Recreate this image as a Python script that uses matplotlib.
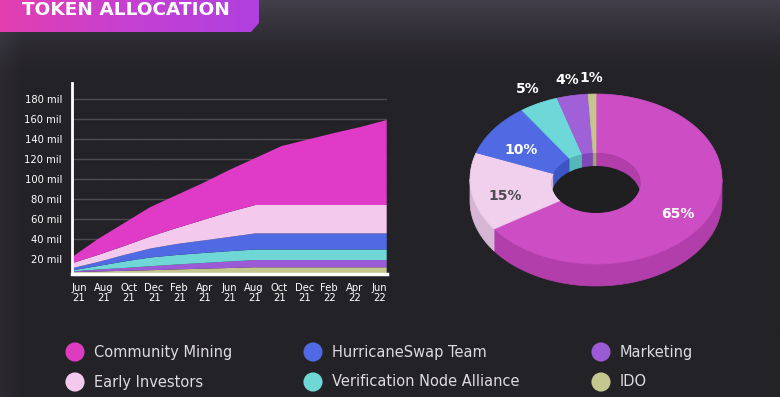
import numpy as np
import matplotlib.pyplot as plt
from matplotlib.patches import Polygon, Ellipse
from matplotlib.colors import LinearSegmentedColormap

plt.rcParams['font.family'] = ['DejaVu Sans']

# ---------------- data ----------------
months = ["Jun\n21", "Aug\n21", "Oct\n21", "Dec\n21", "Feb\n21", "Apr\n21", "Jun\n21",
          "Aug\n21", "Oct\n21", "Dec\n21", "Feb\n22", "Apr\n22", "Jun\n22"]

# unlocked tokens per group, millions (stack order bottom -> top)
ido = [6.8, 7.5, 8.2, 8.8, 9.6, 10.3, 11.0, 11.7, 11.7, 11.7, 11.7, 11.7, 11.7]
marketing = [0.7, 2.0, 2.8, 4.0, 4.9, 5.7, 6.5, 7.3, 7.3, 7.3, 7.3, 7.3, 7.3]
verification = [1.0, 3.5, 6.5, 8.7, 9.5, 10.0, 10.3, 10.5, 10.5, 10.5, 10.5, 10.5, 10.5]
hurricane = [2.2, 4.0, 6.5, 9.0, 11.0, 12.5, 14.2, 16.1, 16.1, 16.1, 16.1, 16.1, 16.1]
early = [5.0, 7.0, 9.0, 12.0, 16.0, 20.5, 25.0, 28.4, 28.4, 28.4, 28.4, 28.4, 28.4]
community = [6.0, 16.0, 23.0, 29.5, 33.0, 37.0, 42.0, 47.0, 59.0, 65.5, 72.0, 78.0, 85.0]

yticks = [20, 40, 60, 80, 100, 120, 140, 160, 180]

# donut shares, clockwise from 12 o'clock
pie_names = ["Community Mining", "Early Investors", "HurricaneSwap Team",
             "Verification Node Alliance", "Marketing", "IDO"]
pie_pct = [65, 15, 10, 5, 4, 1]

# legend order (column-major, 3 columns)
legend_names = ["Community Mining", "Early Investors", "HurricaneSwap Team",
                "Verification Node Alliance", "Marketing", "IDO"]

# ---------------- colours ----------------
area_col = {"Community Mining": "#e03bc7", "Early Investors": "#f4c9ee",
            "HurricaneSwap Team": "#4f6ae3", "Verification Node Alliance": "#6fd7d6",
            "Marketing": "#9b5bd7", "IDO": "#c4c78e"}
pie_col = {"Community Mining": "#cd4ec4", "Early Investors": "#f1d0ee",
           "HurricaneSwap Team": "#4f6ae3", "Verification Node Alliance": "#6ed8d8",
           "Marketing": "#9f60d8", "IDO": "#c3c58b"}
wall_col = {"Community Mining": "#b23eab", "Early Investors": "#d6b6d3",
            "HurricaneSwap Team": "#3d55c4", "Verification Node Alliance": "#55b8b8",
            "Marketing": "#8047b8", "IDO": "#a4a670"}
bg = "#232226"

W, H = 780, 397
fig = plt.figure(figsize=(W / 100, H / 100), dpi=100)
fig.patch.set_facecolor(bg)

# background gradient
bgax = fig.add_axes([0, 0, 1, 1], zorder=-10)
yy = np.linspace(0, 1, 200)[:, None]
xx = np.linspace(0, 1, 400)[None, :]
shade = np.clip(1 - yy / 0.2, 0, 1) ** 1.5 * 0.9 + np.clip(1 - xx / 0.03, 0, 1) * 0.25
cmap_bg = LinearSegmentedColormap.from_list("bg", [bg, "#46424f"])
bgax.imshow(shade, cmap=cmap_bg, vmin=0, vmax=1, aspect="auto", extent=[0, W, H, 0])
bgax.set_xlim(0, W)
bgax.set_ylim(H, 0)
bgax.axis("off")

# ---------------- stacked area ----------------
ax = fig.add_axes([71.7 / W, 1 - 273.5 / H, 315 / W, 190.2 / H], zorder=1)
ax.set_facecolor("none")
x = np.arange(len(months))
series = [ido, marketing, verification, hurricane, early, community]
names = ["IDO", "Marketing", "Verification Node Alliance", "HurricaneSwap Team",
         "Early Investors", "Community Mining"]
ax.stackplot(x, *series, colors=[area_col[n] for n in names], linewidth=0)
ax.set_xlim(0, 12)
ax.set_ylim(5.5, 195.7)
ax.set_yticks(yticks)
ax.set_yticklabels([f"{v} mil" for v in yticks])
ax.set_xticks(np.linspace(0.28, 11.72, len(months)))
ax.set_xticklabels(months, linespacing=0.95)
ax.tick_params(length=0, colors="white", labelsize=7.2)
ax.tick_params(axis="y", pad=7)
ax.tick_params(axis="x", pad=7)
ax.grid(axis="y", color="#4d4d4f", linewidth=1)
ax.set_axisbelow(True)
for s in ["top", "right"]:
    ax.spines[s].set_visible(False)
ax.spines["left"].set_color("white")
ax.spines["left"].set_linewidth(2)
ax.spines["bottom"].set_color("white")
ax.spines["bottom"].set_linewidth(2.5)

# ---------------- overlay (pixel coords) ----------------
ov = fig.add_axes([0, 0, 1, 1], zorder=2)
ov.set_xlim(0, W)
ov.set_ylim(H, 0)
ov.axis("off")
ov.patch.set_visible(False)

# title banner
banner = Polygon([(0, -2), (259, -2), (259, 23), (251, 32), (0, 32)], closed=True,
                 facecolor="none", edgecolor="none")
ov.add_patch(banner)
grad = np.linspace(0, 1, 256)[None, :]
cmap_b = LinearSegmentedColormap.from_list("ban", ["#e33fb0", "#c540d2", "#b040e0"])
im = ov.imshow(grad, cmap=cmap_b, aspect="auto", extent=[0, 260, 32, -2], zorder=3)
im.set_clip_path(banner)
ov.text(22, 10, "TOKEN ALLOCATION", color="white", fontsize=13.3, fontweight="bold",
        ha="left", va="center", zorder=4)

# 3D donut
cx, cy = 596, 179
rx, ry = 126, 85
hcy = cy + 4          # hole sits a bit lower (perspective)
irx, iry = 44.5, 30
depth, idepth = 22, 13


def arc(t0, t1, a, b, yc, dy=0, n=80):
    t = np.radians(np.linspace(t0, t1, n))
    return np.column_stack([cx + a * np.cos(t), yc - b * np.sin(t) + dy])


ends = 90 - np.cumsum(pie_pct) * 3.6
starts = np.concatenate([[90], ends[:-1]])

# outer wall (front half)
for nm, a1, a0 in zip(pie_names, starts, ends):
    lo, hi = max(a0, -180), min(a1, 0)
    if hi > lo:
        top = arc(lo, hi, rx, ry, cy)
        bot = arc(hi, lo, rx, ry, cy, depth)
        ov.add_patch(Polygon(np.vstack([top, bot]), closed=True, facecolor=wall_col[nm],
                             edgecolor=wall_col[nm], lw=0.5, zorder=5))

# top faces
for nm, a1, a0 in zip(pie_names, starts, ends):
    outer = arc(a0, a1, rx, ry, cy)
    inner = arc(a1, a0, irx, iry, hcy)
    ov.add_patch(Polygon(np.vstack([outer, inner]), closed=True, facecolor=pie_col[nm],
                         edgecolor=pie_col[nm], lw=0.5, zorder=6))

# inner wall seen through the hole (far side)
hole = Ellipse((cx, hcy), 2 * irx, 2 * iry, facecolor="none", edgecolor="none")
ov.add_patch(hole)
for nm, a1, a0 in zip(pie_names, starts, ends):
    for lo, hi in [(max(a0, 0), min(a1, 90)), (max(a0, -270), min(a1, -180))]:
        if hi > lo:
            top = arc(lo, hi, irx, iry, hcy)
            bot = arc(hi, lo, irx, iry, hcy, idepth)
            p = Polygon(np.vstack([top, bot]), closed=True, facecolor=wall_col[nm],
                        edgecolor=wall_col[nm], lw=0.5, zorder=7)
            ov.add_patch(p)
            p.set_clip_path(hole)
dark = Ellipse((cx, hcy + idepth), 2 * irx, 2 * iry, facecolor="#1f1e21",
               edgecolor="none", zorder=8)
ov.add_patch(dark)
dark.set_clip_path(hole)

# percentage labels
for nm, pct, a1, a0 in zip(pie_names, pie_pct, starts, ends):
    mid = np.radians((a0 + a1) / 2)
    if pct >= 10:
        f, dy = 0.73, 7
    else:
        f, dy = 1.2, 1
    lx = cx + rx * f * np.cos(mid)
    ly = cy - ry * f * np.sin(mid) + dy
    col = "#4a4a50" if nm == "Early Investors" else "white"
    ov.text(lx, ly, f"{pct}%", color=col, fontsize=10, fontweight="bold",
            ha="center", va="center", zorder=9)

# legend
col_x = [75, 313, 601]
row_y = [352, 382]
for i, nm in enumerate(legend_names):
    lx, ly = col_x[i // 2], row_y[i % 2]
    ov.scatter([lx], [ly], s=190, color=area_col[nm] if nm != "Community Mining" else "#dd3cc0",
               edgecolors="none", zorder=5)
    ov.text(lx + 19, ly, nm, color="#dedbe0", fontsize=10.5, ha="left", va="center", zorder=5)

fig.savefig("out.png", dpi=100, facecolor=bg)
